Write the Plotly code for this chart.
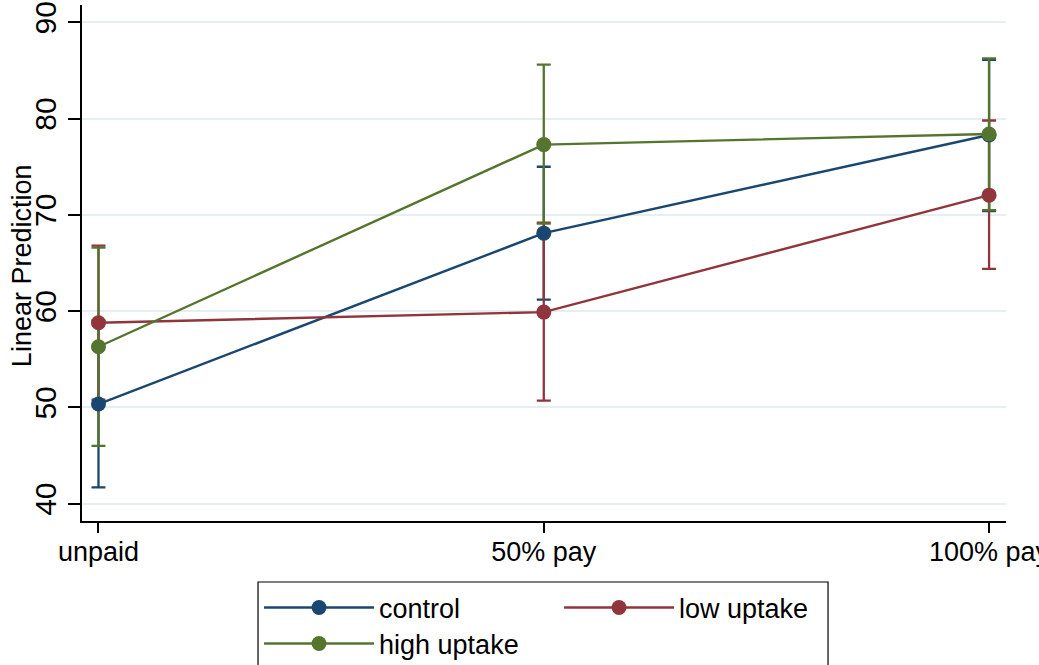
import plotly.graph_objects as go

# ---- data ----
categories = ["unpaid", "50% pay", "100% pay"]

series_names = ["control", "low uptake", "high uptake"]
control = [50.35, 68.1, 78.3]
control_lo = [41.7, 61.2, 70.4]
control_hi = [59.0, 75.0, 86.1]

low_uptake = [58.8, 59.9, 72.05]
low_uptake_lo = [50.8, 50.7, 64.4]
low_uptake_hi = [66.8, 69.2, 79.8]

high_uptake = [56.3, 77.3, 78.4]
high_uptake_lo = [46.0, 69.1, 70.5]
high_uptake_hi = [66.6, 85.6, 86.25]

y_ticks = [40, 50, 60, 70, 80, 90]
y_title = "Linear Prediction"

colors = ["#1a476f", "#90353b", "#55752f"]
FONT = "Liberation Sans, Arial, Helvetica, sans-serif"
FS = 27

series = [
    (series_names[0], control, control_lo, control_hi, colors[0], "legend"),
    (series_names[1], low_uptake, low_uptake_lo, low_uptake_hi, colors[1], "legend"),
    (series_names[2], high_uptake, high_uptake_lo, high_uptake_hi, colors[2], "legend2"),
]

fig = go.Figure()

# confidence-interval caps first (beneath all lines/markers)
for name, vals, lo, hi, col, lg in series:
    fig.add_trace(go.Scatter(
        x=categories, y=vals, mode="markers",
        marker=dict(size=1, color="rgba(0,0,0,0)"),
        error_y=dict(type="data", symmetric=False,
                     array=[h - v for h, v in zip(hi, vals)],
                     arrayminus=[v - l for v, l in zip(vals, lo)],
                     color=col, thickness=2.3, width=7),
        showlegend=False, hoverinfo="skip",
    ))

# connected lines with markers
for name, vals, lo, hi, col, lg in series:
    fig.add_trace(go.Scatter(
        x=categories, y=vals, mode="lines+markers", name=name,
        line=dict(color=col, width=2.4),
        marker=dict(color=col, size=15),
        legend=lg,
    ))

legend_common = dict(
    orientation="h", xanchor="left", yanchor="top",
    font=dict(family=FONT, size=FS, color="black"),
    bgcolor="rgba(0,0,0,0)", borderwidth=0,
    itemwidth=110, entrywidth=175, traceorder="normal",
    itemclick=False, itemdoubleclick=False,
)

fig.update_layout(
    width=1039, height=665,
    margin=dict(l=82, r=33, t=5, b=144, autoexpand=False),
    paper_bgcolor="white", plot_bgcolor="white",
    font=dict(family=FONT, size=FS, color="black"),
    showlegend=True,
    legend=dict(x=0.1916, y=-0.1211, **legend_common),
    legend2=dict(x=0.1916, y=-0.1909, **legend_common),
    xaxis=dict(
        type="category", range=[-0.037, 2.038],
        showgrid=False, zeroline=False,
        showline=True, linecolor="black", linewidth=1.5,
        ticks="outside", ticklen=10, tickwidth=1.5, tickcolor="black",
        ticklabelstandoff=-4,
        tickfont=dict(family=FONT, size=FS, color="black"),
    ),
    yaxis=dict(
        range=[38.2, 91.8], tickvals=y_ticks,
        showgrid=True, gridcolor="#e6eef1", gridwidth=1.5,
        zeroline=False,
        showline=True, linecolor="black", linewidth=1.5,
        ticks="outside", ticklen=12, tickwidth=1.5, tickcolor="black",
        tickangle=-90,
        tickfont=dict(family=FONT, size=30, color="black"),
    ),
    annotations=[dict(text=y_title, xref="paper", yref="paper",
                      x=-0.0649, y=0.494, xanchor="center", yanchor="middle",
                      textangle=-90, showarrow=False,
                      font=dict(family=FONT, size=FS, color="black"))],
    shapes=[dict(type="rect", xref="paper", yref="paper",
                 x0=0.1905, x1=0.8074, y0=-0.1182, y1=-0.40,
                 line=dict(color="black", width=1.2), fillcolor="rgba(0,0,0,0)",
                 layer="above")],
)

fig.write_html("out.html", config={"displayModeBar": False},
               post_script="document.body.style.margin='0px';document.body.style.padding='0px';")
